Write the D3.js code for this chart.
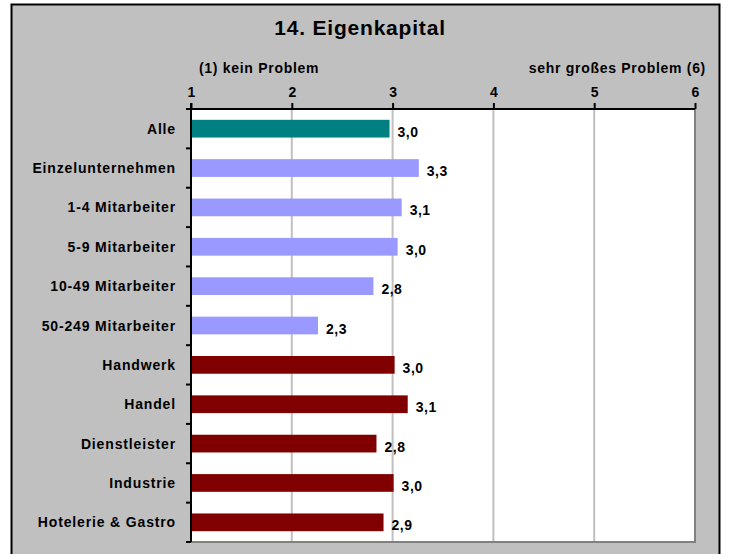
<!DOCTYPE html>
<html>
<head>
<meta charset="utf-8">
<script src="https://cdn.jsdelivr.net/npm/d3@7"></script>
<style>
  body { margin: 0; background: #fff; }
  text { font-family: "Liberation Sans", Arial, sans-serif; font-weight: bold; fill: #000; }
</style>
</head>
<body>
<svg id="chart"></svg>
<script>
// Data
const categories = ['Alle', 'Einzelunternehmen', '1-4 Mitarbeiter', '5-9 Mitarbeiter', '10-49 Mitarbeiter',
  '50-249 Mitarbeiter', 'Handwerk', 'Handel', 'Dienstleister', 'Industrie', 'Hotelerie & Gastro'];
const values = [2.97, 3.26, 3.09, 3.05, 2.81, 2.26, 3.02, 3.15, 2.84, 3.01, 2.91];
const valueLabels = ['3,0', '3,3', '3,1', '3,0', '2,8', '2,3', '3,0', '3,1', '2,8', '3,0', '2,9'];
const groups = ['all', 'size', 'size', 'size', 'size', 'size', 'sector', 'sector', 'sector', 'sector', 'sector'];
const ticks = [1, 2, 3, 4, 5, 6];

const groupColor = { all: '#008080', size: '#9999ff', sector: '#800000' };

// Setup
const width = 729, height = 554;
const plot = { left: 191, right: 695, top: 109, bottom: 542 };

const svg = d3.select('#chart')
  .attr('width', width)
  .attr('height', height);

// outer frame
svg.append('rect')
  .attr('x', 11.5).attr('y', 4.5)
  .attr('width', 708).attr('height', 580)
  .attr('fill', '#c0c0c0')
  .attr('stroke', '#000')
  .attr('stroke-width', 2);

svg.append('text')
  .attr('x', 360).attr('y', 35)
  .attr('text-anchor', 'middle')
  .style('font-size', '21px')
  .style('letter-spacing', '0.8px')
  .text('14. Eigenkapital');

const x = d3.scaleLinear()
  .domain([1, 6])
  .range([plot.left, plot.right]);

const y = d3.scaleBand()
  .domain(categories)
  .range([plot.top, plot.bottom])
  .paddingInner(0.55)
  .paddingOuter(0.275);

const yEdge = d3.scaleLinear()
  .domain([0, categories.length])
  .range([plot.top, plot.bottom]);

// plot area
svg.append('rect')
  .attr('x', plot.left).attr('y', plot.top)
  .attr('width', plot.right - plot.left).attr('height', plot.bottom - plot.top)
  .attr('fill', '#fff');

// gridlines
svg.append('g')
  .selectAll('line')
  .data(ticks.slice(1, -1))
  .enter().append('line')
  .attr('x1', d => x(d)).attr('x2', d => x(d))
  .attr('y1', plot.top).attr('y2', plot.bottom)
  .attr('stroke', '#c0c0c0')
  .attr('stroke-width', 2);

// shadow border right + bottom
svg.append('path')
  .attr('d', `M${plot.right},${plot.top} V${plot.bottom} H${plot.left}`)
  .attr('fill', 'none')
  .attr('stroke', '#808080')
  .attr('stroke-width', 2);

// bars
svg.append('g')
  .selectAll('rect')
  .data(categories)
  .enter().append('rect')
  .attr('x', x(1) + 1)
  .attr('y', d => y(d))
  .attr('width', (d, i) => x(values[i]) - x(1) - 1)
  .attr('height', y.bandwidth())
  .attr('fill', (d, i) => groupColor[groups[i]]);

// value labels
svg.append('g')
  .selectAll('text')
  .data(categories)
  .enter().append('text')
  .attr('x', (d, i) => x(values[i]) + 8)
  .attr('y', d => y(d) + y.bandwidth() / 2 + 8)
  .style('font-size', '14px')
  .style('letter-spacing', '0.5px')
  .text((d, i) => valueLabels[i]);

// top axis
const xAxis = svg.append('g')
  .attr('transform', `translate(0,${plot.top})`)
  .call(d3.axisTop(x).tickValues(ticks).tickSize(6).tickFormat(d3.format('d')));
xAxis.select('.domain').attr('stroke-width', 2).attr('d', `M${plot.left - 5},0H${plot.right}`);
xAxis.selectAll('.tick line').attr('stroke-width', 2);
xAxis.selectAll('.tick text')
  .attr('y', -12)
  .style('font-size', '14px')
  .style('font-family', '"Liberation Sans", Arial, sans-serif');

// left axis with ticks at category boundaries
svg.append('line')
  .attr('x1', plot.left).attr('x2', plot.left)
  .attr('y1', plot.top - 6).attr('y2', plot.bottom)
  .attr('stroke', '#000').attr('stroke-width', 2);
svg.append('g')
  .selectAll('line')
  .data(d3.range(1, categories.length + 1))
  .enter().append('line')
  .attr('x1', plot.left - 5).attr('x2', plot.left)
  .attr('y1', d => yEdge(d)).attr('y2', d => yEdge(d))
  .attr('stroke', '#000').attr('stroke-width', 2);

// category labels
svg.append('g')
  .selectAll('text')
  .data(categories)
  .enter().append('text')
  .attr('x', 176)
  .attr('y', d => y(d) + y.bandwidth() / 2 + 5)
  .attr('text-anchor', 'end')
  .style('font-size', '14px')
  .style('letter-spacing', '0.85px')
  .text(d => d);

// scale end labels
svg.append('text')
  .attr('x', 199).attr('y', 73)
  .style('font-size', '14px')
  .style('letter-spacing', '0.7px')
  .text('(1) kein Problem');
svg.append('text')
  .attr('x', 706).attr('y', 73)
  .attr('text-anchor', 'end')
  .style('font-size', '14px')
  .style('letter-spacing', '0.7px')
  .text('sehr großes Problem (6)');
</script>
</body>
</html>
